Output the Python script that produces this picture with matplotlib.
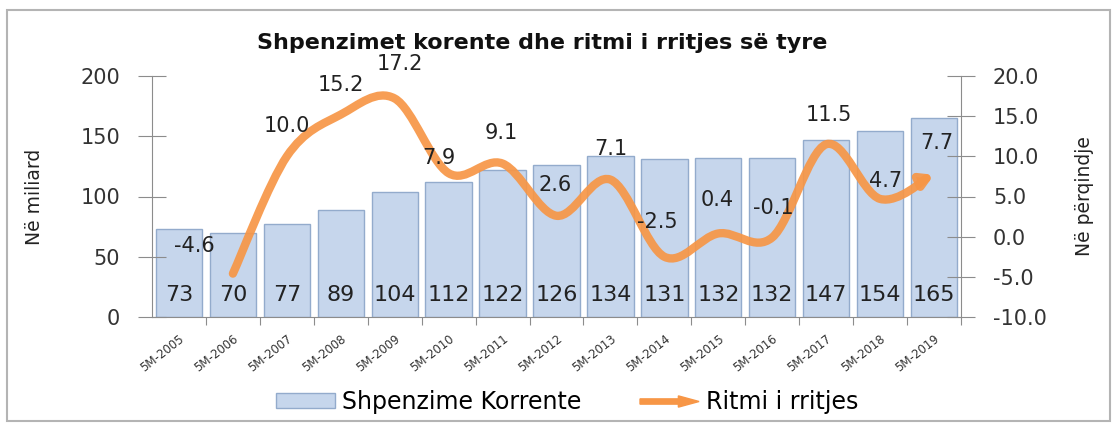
import matplotlib.pyplot as plt
import matplotlib.patches as mpatches
from matplotlib.path import Path
from matplotlib.legend_handler import HandlerPatch

vitet = ['5M-2005', '5M-2006', '5M-2007', '5M-2008', '5M-2009', '5M-2010', '5M-2011',
         '5M-2012', '5M-2013', '5M-2014', '5M-2015', '5M-2016', '5M-2017', '5M-2018', '5M-2019']
shpenzime = [73, 70, 77, 89, 104, 112, 122, 126, 134, 131, 132, 132, 147, 154, 165]
# ritmi i rritjes fillon nga 2006
ritmi = [-4.6, 10.0, 15.2, 17.2, 7.9, 9.1, 2.6, 7.1, -2.5, 0.4, -0.1, 11.5, 4.7, 7.7]

# zhvendosja e etiketave te ritmit (pike)
zhvendosje = [(-28, 20), (0, 22), (0, 21), (4, 25), (-7, 11), (-1, 22), (-1, 22),
              (0, 22), (-5, 25), (-1, 24), (1, 21), (2, 21), (4, 13), (2, 23)]

portokalli = '#f79646'
blu = '#c6d6ec'
gri = '#8c8c8c'

fig = plt.figure(figsize=(11.13, 4.24), dpi=100)
ax = fig.add_axes([152 / 1113, 107 / 424, 809 / 1113, 241 / 424])
ax2 = ax.twinx()

x = list(range(len(vitet)))
ax.bar(x, shpenzime, width=0.86, color=blu, edgecolor='#93abcc', linewidth=1)
for i, v in enumerate(shpenzime):
    ax.text(i, 18.5, str(v), ha='center', va='center', fontsize=16, color='#222222')

ax.set_xlim(-0.5, len(vitet) - 0.5)
ax.set_ylim(0, 200)
ax.set_yticks([0, 50, 100, 150, 200])
ax.set_xticks([i + 0.5 for i in range(len(vitet))])
ax.set_xticklabels([])
ax.set_xticks(x, minor=True)
ax.set_xticklabels(vitet, minor=True, rotation=38, ha='right', va='top',
                   rotation_mode='anchor', fontsize=8.5, color='#333333')
ax.tick_params(axis='x', which='major', direction='out', length=6, color=gri)
ax.tick_params(axis='x', which='minor', length=0, pad=11)
ax.tick_params(axis='y', direction='inout', length=20, color=gri, labelsize=15,
               labelcolor='#333333', pad=13)
ax.set_ylabel('Në miliard', fontsize=13.5, labelpad=26, color='#222222')

ax2.set_ylim(-10, 20)
ax2.set_yticks([-10, -5, 0, 5, 10, 15, 20])
ax2.set_yticklabels([f'{t:.1f}' for t in [-10, -5, 0, 5, 10, 15, 20]])
ax2.tick_params(axis='y', direction='inout', length=20, color=gri, labelsize=15,
                labelcolor='#333333', pad=13)
ax2.set_ylabel('Në përqindje', fontsize=13.5, labelpad=20, color='#222222')

for a in (ax, ax2):
    a.spines['top'].set_visible(False)
    for s in ('left', 'right', 'bottom'):
        a.spines[s].set_color(gri)
ax.spines['right'].set_visible(False)
ax2.spines['left'].set_visible(False)
ax2.spines['bottom'].set_visible(False)

# vije e zbutur si ne Excel
xr = x[1:]
n = len(ritmi)
verts = [(xr[0], ritmi[0])]
codes = [Path.MOVETO]
for i in range(n - 1):
    x0, y0 = xr[max(i - 1, 0)], ritmi[max(i - 1, 0)]
    x1, y1 = xr[i], ritmi[i]
    x2, y2 = xr[i + 1], ritmi[i + 1]
    x3, y3 = xr[min(i + 2, n - 1)], ritmi[min(i + 2, n - 1)]
    verts += [(x1 + (x2 - x0) / 6, y1 + (y2 - y0) / 6),
              (x2 - (x3 - x1) / 6, y2 - (y3 - y1) / 6),
              (x2, y2)]
    codes += [Path.CURVE4] * 3
vija = mpatches.FancyArrowPatch(path=Path(verts, codes), arrowstyle='-|>,head_length=0.6,head_width=0.35',
                                mutation_scale=11, color=portokalli, lw=6, alpha=0.92,
                                transform=ax2.transData, capstyle='round', joinstyle='round')
ax2.add_patch(vija)

for i, v in enumerate(ritmi):
    dx, dy = zhvendosje[i]
    ax2.annotate(f'{v:.1f}', (xr[i], v), xytext=(dx, dy), textcoords='offset points',
                 ha='center', va='center', fontsize=15, color='#222222')

fig.text(542 / 1113, 1 - 43 / 424, 'Shpenzimet korente dhe ritmi i rritjes së tyre',
         ha='center', va='center', fontsize=16, fontweight='bold', color='#111111')


def shigjeta(legend, orig_handle, xdescent, ydescent, width, height, fontsize):
    return mpatches.FancyArrow(0, height / 2, width, 0, width=height * 0.35,
                               head_width=height * 0.75, head_length=width * 0.35,
                               length_includes_head=True, color=portokalli, lw=0)


h_bar = mpatches.Patch(facecolor=blu, edgecolor='#93abcc')
h_line = mpatches.FancyArrow(0, 0, 1, 0, color=portokalli)
fig.legend([h_bar, h_line], ['Shpenzime Korrente', 'Ritmi i rritjes'],
           handler_map={mpatches.FancyArrow: HandlerPatch(patch_func=shigjeta)},
           loc='center', bbox_to_anchor=(567 / 1113, 22 / 424), ncol=2, frameon=False,
           fontsize=17, handlelength=2.5, handleheight=0.6, handletextpad=0.3,
           columnspacing=2.5)

korniza = mpatches.Rectangle((7 / 1113, 3 / 424), 1103 / 1113, 411 / 424, transform=fig.transFigure,
                             fill=False, edgecolor='#b4b4b4', lw=1.5)
fig.patches.append(korniza)

fig.savefig('out.png', dpi=100)
